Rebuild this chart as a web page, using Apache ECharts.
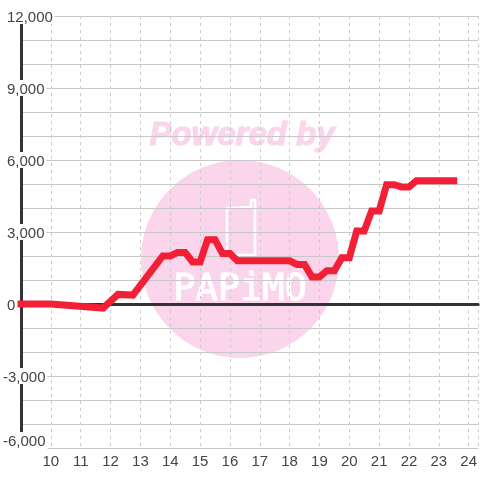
<!DOCTYPE html>
<html>
<head>
<meta charset="utf-8">
<style>html,body{margin:0;padding:0;background:#fff}#main{width:480px;height:480px}</style>
<script src="https://cdn.jsdelivr.net/npm/echarts@6/dist/echarts.min.js"></script>
</head>
<body>
<div id="main"></div>
<script>
var hours = [9, 10, 11.75, 12.25, 12.75, 13.75, 14, 14.25, 14.5, 14.75, 15, 15.25, 15.5, 15.75, 16, 16.25, 18, 18.25, 18.5, 18.75, 19, 19.25, 19.5, 19.75, 20, 20.25, 20.5, 20.75, 21, 21.25, 21.5, 21.75, 22, 22.25, 23.5];
var values = [0, 0, -170, 400, 370, 2000, 2000, 2150, 2150, 1750, 1750, 2680, 2680, 2100, 2100, 1800, 1800, 1650, 1650, 1130, 1130, 1390, 1390, 1930, 1930, 3040, 3040, 3880, 3880, 4970, 4970, 4880, 4880, 5140, 5140];

var points = [];
for (var i = 0; i < hours.length; i++) {
    points.push([hours[i], values[i]]);
}

var pink = '#fbd5ec';
var myChart = echarts.init(document.getElementById('main'));
var option = {
    animation: false,
    textStyle: { fontFamily: '"Liberation Sans", Arial, sans-serif' },
    grid: { left: 20.5, top: 16, width: 459.5, height: 432 },
    graphic: {
        elements: [
            { type: 'circle', z: -1, shape: { cx: 240, cy: 259, r: 99 }, style: { fill: pink } },
            { type: 'text', z: -1, x: 242, y: 136, style: { text: 'Powered by', fill: pink, stroke: pink, lineWidth: 1.2, font: 'italic bold 33px "Liberation Sans"', align: 'center', verticalAlign: 'middle' } },
            { type: 'polyline', z: -1, shape: { points: [[227, 255], [227, 208], [251, 207], [251, 200], [255, 200], [255, 255], [227, 255]] }, style: { fill: 'none', stroke: '#fff', lineWidth: 2.5, lineJoin: 'round' } },
            { type: 'text', z: -1, x: 240, y: 290, style: { text: 'PAPiMO', fill: '#fff', stroke: '#fff', lineWidth: 1, font: '37px "DejaVu Sans Mono"', align: 'center', verticalAlign: 'middle' } }
        ]
    },
    xAxis: {
        type: 'value',
        min: 9,
        max: 24.3167,
        interval: 1,
        axisLine: { onZero: true, lineStyle: { color: '#333', width: 3 } },
        axisTick: { show: false },
        axisLabel: {
            color: '#444',
            fontSize: 15,
            margin: 6,
            showMinLabel: false,
            showMaxLabel: false
        },
        splitLine: { show: true, lineStyle: { color: '#ccc', type: [3, 4], width: 1 } }
    },
    yAxis: {
        type: 'value',
        min: -6000,
        max: 12000,
        interval: 3000,
        axisLine: { show: true, lineStyle: { color: '#333', width: 3 } },
        axisTick: { show: false },
        axisLabel: {
            color: '#444',
            fontSize: 15,
            align: 'left',
            margin: 18,
            formatter: function (v) {
                var s = echarts.format.addCommas(v);
                if (v == -6000) return '{low|' + s + '}';
                if (v < 0) return '{neg|' + s + '}';
                return '{gap|}{pos|' + s + '}';
            },
            rich: {
                gap: { width: 4, height: 12, padding: [4, 0, 0, 0], backgroundColor: '#fff' },
                pos: { fontSize: 15, color: '#444', height: 12, padding: [4, 2, 0, 0], backgroundColor: '#fff' },
                neg: { fontSize: 15, color: '#444', height: 12, padding: [4, 2, 0, 0], backgroundColor: '#fff' },
                low: { fontSize: 15, color: '#444', height: 12, padding: [4, 2, 16, 0], backgroundColor: '#fff' }
            }
        },
        splitLine: { show: true, lineStyle: { color: '#c8c8c8', width: 1 } },
        minorTick: { show: false, splitNumber: 3 },
        minorSplitLine: { show: true, lineStyle: { color: '#c8c8c8', width: 1 } }
    },
    series: [
        {
            type: 'line',
            data: points,
            showSymbol: false,
            clip: false,
            lineStyle: { color: '#f12037', width: 7, cap: 'square', join: 'miter' }
        }
    ]
};
myChart.setOption(option);
</script>
</body>
</html>
